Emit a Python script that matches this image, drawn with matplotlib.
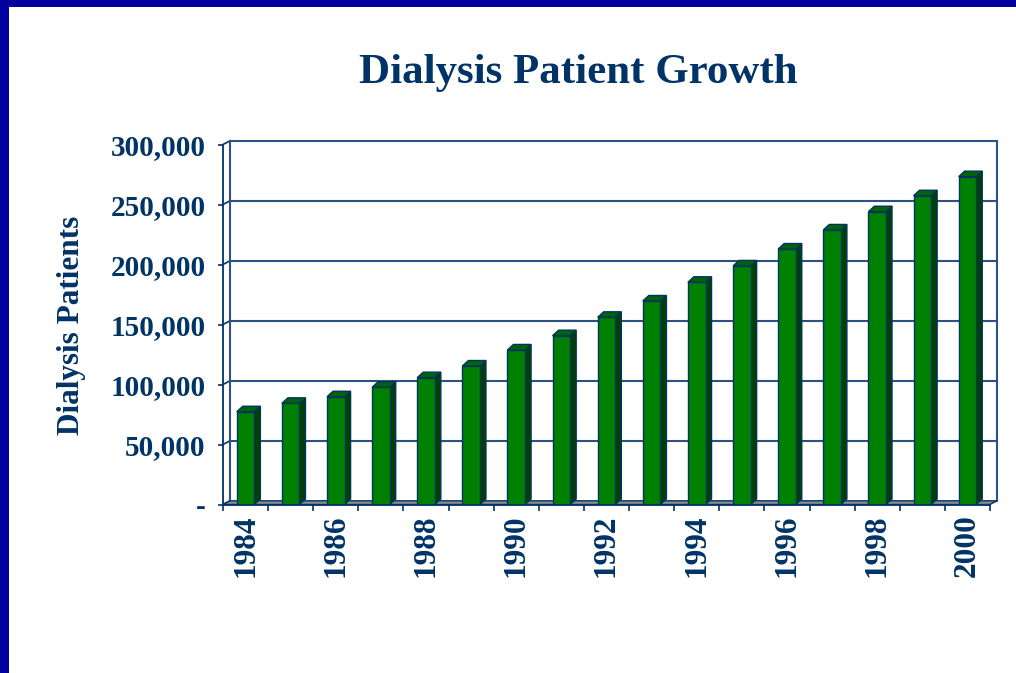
import matplotlib
matplotlib.use('Agg')
import matplotlib.pyplot as plt
from matplotlib.patches import Polygon, Rectangle
from matplotlib.ticker import FuncFormatter, FixedLocator
import numpy as np

# ---- data ----
years = list(range(1984, 2001))
patients = [77300, 84300, 89800, 97700, 105700, 115400, 128800, 140700, 156000,
            169600, 185200, 198800, 212900, 228800, 244000, 257300, 273200]
year_labels = [str(y) if y % 2 == 0 else '' for y in years]
y_ticks = [0, 50000, 100000, 150000, 200000, 250000, 300000]
title = 'Dialysis Patient Growth'
y_title = 'Dialysis Patients'

# ---- style ----
navy = '#003366'
grid_col = '#2b5283'
front_col = '#008000'
side_col = '#004000'
top_col = '#006400'
floor_col = '#8c8c8c'
border_col = '#0000A0'
serif = ['Liberation Serif', 'DejaVu Serif']

W, H = 1016, 673
fig = plt.figure(figsize=(W / 100, H / 100), dpi=100)
fig.patch.set_facecolor('white')

# frame border (left and top)
fig.patches.append(Rectangle((0, 0), 8.7 / W, 1, transform=fig.transFigure,
                             facecolor=border_col, edgecolor='none', zorder=0))
fig.patches.append(Rectangle((0, 1 - 7.3 / H), 1, 7.3 / H, transform=fig.transFigure,
                             facecolor=border_col, edgecolor='none', zorder=0))

ax_left, ax_right = 223, 990
ax_zero, ax_top = 504.5, 144.5
ax = fig.add_axes([ax_left / W, 1 - ax_zero / H, (ax_right - ax_left) / W,
                   (ax_zero - ax_top) / H])
ax.set_facecolor('none')
n = len(years)
ymax = y_ticks[-1]
ax.set_xlim(-0.5, n - 0.5)
ax.set_ylim(0, ymax)

px_x = n / (ax_right - ax_left)
px_y = ymax / (ax_zero - ax_top)
wall_dx, wall_dy = 7 * px_x, 3.7 * px_y
bar_dx, bar_dy = 6 * px_x, 5.5 * px_y
x0, x1 = -0.5, n - 0.5

# back wall gridlines and connectors
for v in y_ticks:
    if v > 0:
        ax.plot([x0 + wall_dx, x1 + wall_dx], [v + wall_dy] * 2, color=grid_col,
                lw=1.5, zorder=1, clip_on=False, solid_capstyle='butt')
    ax.plot([x0, x0 + wall_dx], [v, v + wall_dy], color=navy, lw=1.2, zorder=1,
            clip_on=False)
# wall verticals
for xv in (x0 + wall_dx, x1 + wall_dx):
    ax.plot([xv, xv], [wall_dy, ymax + wall_dy], color=grid_col, lw=1.5, zorder=1,
            clip_on=False)
# floor
ax.add_patch(Polygon([(x0, 0), (x1, 0), (x1 + wall_dx, wall_dy), (x0 + wall_dx, wall_dy)],
                     closed=True, facecolor=floor_col, edgecolor=navy, lw=1.0,
                     zorder=2, clip_on=False))

# bars
xs = np.arange(n)
bw = 0.39
for xi, v in zip(xs, patients):
    xl, xr = xi - bw / 2, xi + bw / 2
    ax.add_patch(Polygon([(xr, 0), (xr, v), (xr + bar_dx, v + bar_dy), (xr + bar_dx, bar_dy)],
                         closed=True, facecolor=side_col, edgecolor=navy, lw=1.0,
                         zorder=3, clip_on=False))
    ax.add_patch(Polygon([(xl, v), (xr, v), (xr + bar_dx, v + bar_dy), (xl + bar_dx, v + bar_dy)],
                         closed=True, facecolor=top_col, edgecolor=navy, lw=1.0,
                         zorder=3, clip_on=False))
ax.bar(xs, patients, width=bw, color=front_col, edgecolor=navy, linewidth=1.0, zorder=4)

# spines
for s in ('top', 'right'):
    ax.spines[s].set_visible(False)
for s in ('left', 'bottom'):
    ax.spines[s].set_color(navy)
    ax.spines[s].set_linewidth(1.3)
    ax.spines[s].set_zorder(5)

# y ticks
ax.yaxis.set_major_locator(FixedLocator(y_ticks))
ax.yaxis.set_major_formatter(FuncFormatter(lambda v, p: '-' if v == 0 else f'{int(v):,}'))
ax.tick_params(axis='y', direction='out', length=3.6, width=1.2, color=navy,
               pad=9.0, labelsize=21, labelcolor=navy)
for lab in ax.get_yticklabels():
    lab.set_fontfamily(serif)
    lab.set_fontweight('bold')

# x ticks
ax.set_xticks(xs)
ax.set_xticklabels(year_labels, rotation=90, fontsize=22.5, fontweight='bold',
                   color=navy, fontfamily=serif)
ax.set_xticks(np.arange(n + 1) - 0.5, minor=True)
ax.tick_params(axis='x', which='major', length=0, pad=7)
ax.tick_params(axis='x', which='minor', direction='out', length=4.3, width=1.2, color=navy)

# texts
fig.text(578 / W, 1 - 83 / H, title, ha='center', va='baseline', fontsize=31,
         fontweight='bold', color=navy, fontfamily=serif)
fig.text(72 / W, 1 - 325 / H, y_title, ha='center', va='center', rotation=90,
         fontsize=22.5, fontweight='bold', color=navy, fontfamily=serif)

fig.savefig('out.png', dpi=100, facecolor='white')
